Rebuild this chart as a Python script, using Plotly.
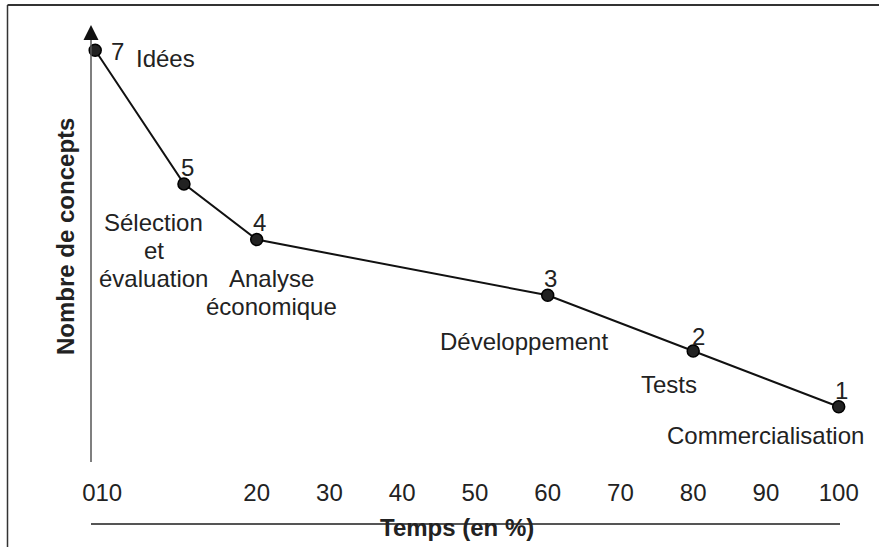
import plotly.graph_objects as go

# ---- data ----
time_pct = [-2.2, 10, 20, 60, 80, 100]          # Temps (en %)
concept_level = [7.4, 5, 4, 3, 2, 1]            # vertical position of each stage
concept_counts = ["7", "5", "4", "3", "2", "1"]  # Nombre de concepts (labels)
stage_names = [
    ["Idées"],
    ["Sélection", "et", "évaluation"],
    ["Analyse", "économique"],
    ["Développement"],
    ["Tests"],
    ["Commercialisation"],
]
x_tick_vals = [-1.24, 20, 30, 40, 50, 60, 70, 80, 90, 100]
x_tick_text = ["010", "20", "30", "40", "50", "60", "70", "80", "90", "100"]

# ---- layout / style ----
W, H = 879, 547
ML, MR, MT, MB = 91, 39, 0, 24
PW, PH = W - ML - MR, H - MT - MB
FONT = "Liberation Sans, Arial, Helvetica, sans-serif"
TXT = "#222222"
FS = 24

count_offsets = [(22, -1), (4, 16), (3, 17), (3, 17), (5, 15), (3, 16)]
stage_offsets = [(70, -8), (-30, -39), (15, -39), (-24, -46), (-24, -33), (-73, -29)]
LINE_STEP = 28


def px_x(p):
    return (p - ML) / PW


def px_y(p):
    return (H - MB - p) / PH


fig = go.Figure()
fig.add_trace(go.Scatter(
    x=time_pct, y=concept_level, mode="lines+markers",
    line=dict(color="#111111", width=2),
    marker=dict(size=12, color="#222222", line=dict(color="#000000", width=1.5)),
    cliponaxis=False, showlegend=False, hoverinfo="skip",
))

ann = []
for i, (x, y, t) in enumerate(zip(time_pct, concept_level, concept_counts)):
    dx, dy = count_offsets[i]
    ann.append(dict(x=x, y=y, xref="x", yref="y", text=t, showarrow=False,
                    xanchor="center", yanchor="middle",
                    xshift=dx, yshift=dy, font=dict(family=FONT, size=FS, color=TXT)))
    sx, sy = stage_offsets[i]
    for j, line in enumerate(stage_names[i]):
        ann.append(dict(x=x, y=y, xref="x", yref="y", text=line, showarrow=False,
                        xanchor="center", yanchor="middle",
                        xshift=sx, yshift=sy - LINE_STEP * j,
                        font=dict(family=FONT, size=FS, color=TXT)))

# arrow head on the vertical axis
ann.append(dict(x=0, y=px_y(25), xref="paper", yref="paper", text="", showarrow=True,
                ax=0, ay=16, axref="pixel", ayref="pixel", arrowhead=2, arrowsize=2.0,
                arrowwidth=1.5, arrowcolor="#111111", standoff=0))
# axis titles
ann.append(dict(x=px_x(457), y=px_y(527), xref="paper", yref="paper",
                xanchor="center", yanchor="middle",
                text="<b>Temps (en %)</b>", showarrow=False,
                font=dict(family=FONT, size=FS, color=TXT)))
ann.append(dict(x=px_x(66), y=px_y(237), xref="paper", yref="paper",
                xanchor="center", yanchor="middle",
                text="<b>Nombre de concepts</b>", showarrow=False, textangle=-90,
                font=dict(family=FONT, size=FS, color=TXT)))

shapes = [
    # vertical axis line
    dict(type="line", xref="paper", yref="paper", x0=0, x1=0,
         y0=px_y(462), y1=px_y(34), line=dict(color="#555555", width=1.5)),
    # frame
    dict(type="line", xref="paper", yref="paper", x0=px_x(7.5), x1=px_x(7.5),
         y0=px_y(5), y1=px_y(H), line=dict(color="#333333", width=1.5)),
    dict(type="line", xref="paper", yref="paper", x0=px_x(7.5), x1=px_x(W),
         y0=px_y(5), y1=px_y(5), line=dict(color="#333333", width=2)),
]

fig.update_layout(
    width=W, height=H, margin=dict(l=ML, r=MR, t=MT, b=MB, pad=0),
    paper_bgcolor="#ffffff", plot_bgcolor="#ffffff",
    annotations=ann, shapes=shapes,
    xaxis=dict(range=[(ML - 111.2) / 7.275, (W - MR - 111.2) / 7.275],
               showgrid=False, zeroline=False, showline=True,
               linecolor="#555555", linewidth=1.5, ticks="",
               tickvals=x_tick_vals, ticktext=x_tick_text,
               ticklabelposition="inside", ticklabeloverflow="allow",
               ticklabelstandoff=19,
               tickfont=dict(family=FONT, size=FS, color=TXT)),
    yaxis=dict(range=[1 - (H - MB - 406.7) / 55.7, 1 + 406.7 / 55.7],
               showgrid=False, zeroline=False, showline=False,
               showticklabels=False, ticks=""),
)

fig.write_html(
    "out.html",
    config={"displayModeBar": False},
    post_script="document.body.style.margin='0';document.body.style.overflow='hidden';",
)
